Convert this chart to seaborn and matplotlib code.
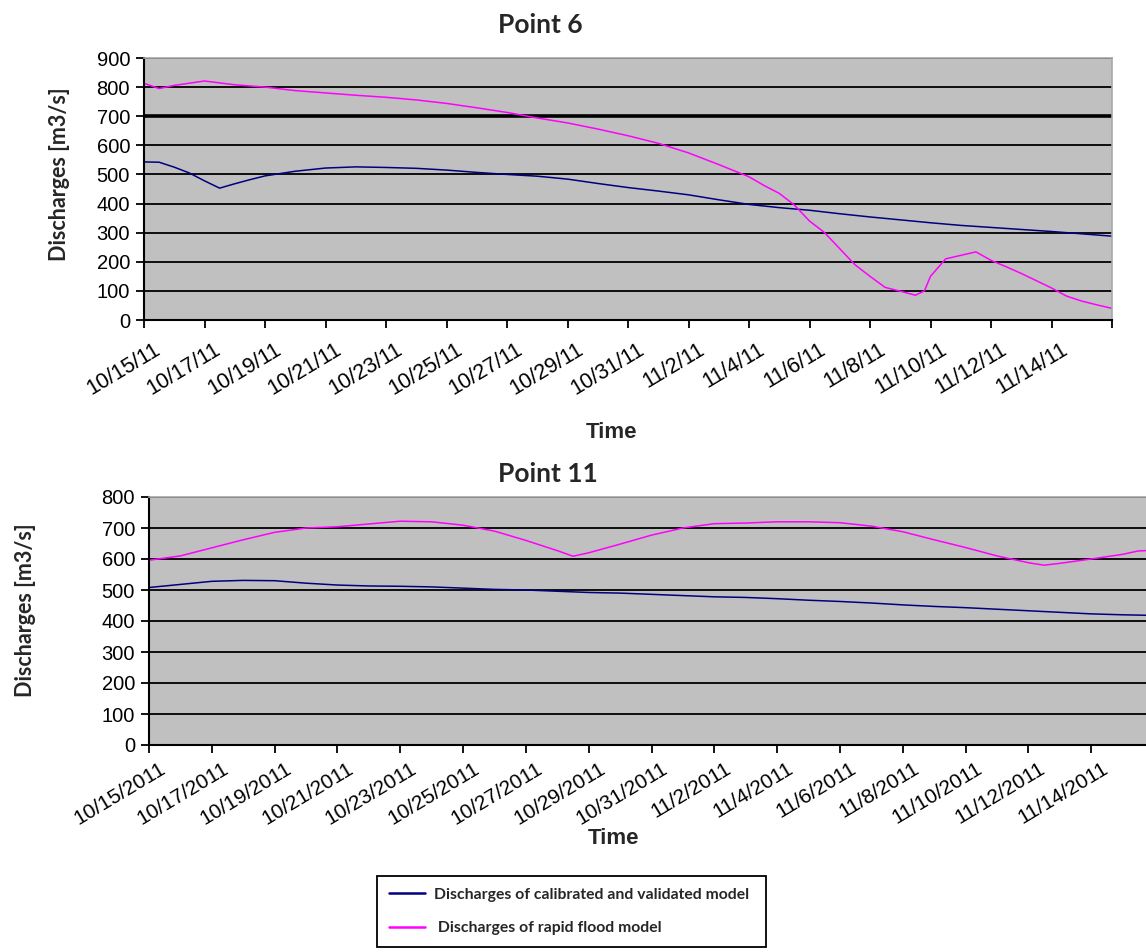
import matplotlib
matplotlib.use("Agg")
import matplotlib.pyplot as plt
import matplotlib.transforms as mtransforms
from matplotlib.lines import Line2D
import pandas as pd
import seaborn as sns

START = pd.Timestamp("2011-10-15")

# Point 6 -- day offsets from 15 Oct 2011 and discharges [m3/s]
p6_cal_days = [0, 0.5, 1, 1.5, 2, 2.5, 3, 3.5, 4, 5, 6, 7, 8, 9, 10, 11, 12, 13, 14, 15,
               16, 17, 18, 19, 20, 21, 22, 23, 24, 25, 26, 27, 28, 29, 30, 31, 32]
p6_cal_vals = [543, 542, 525, 505, 478, 453, 468, 482, 495, 511, 522, 526, 524, 521, 515, 507,
               500, 494, 484, 469, 455, 443, 430, 413, 397, 386, 377, 365, 354, 344, 334, 325,
               318, 311, 304, 296, 288]

p6_rapid_days = [0, 0.5, 1, 2, 3, 4, 5, 6, 7, 8, 9, 10, 11, 12, 13, 14, 15, 16, 17, 18, 19,
                 20, 20.5, 21, 21.5, 22, 22.5, 23, 23.5, 24, 24.5, 25, 25.5, 25.8, 26, 26.5,
                 27, 27.5, 28, 28.5, 29, 29.5, 30, 30.5, 31, 31.5, 32]
p6_rapid_vals = [813, 795, 806, 821, 808, 800, 788, 780, 772, 765, 756, 744, 729, 713, 694, 677,
                 656, 633, 607, 574, 534, 492, 462, 435, 395, 340, 300, 245, 190, 150, 112, 99,
                 85, 100, 150, 210, 222, 234, 205, 183, 160, 135, 110, 82, 65, 52, 40]

# Point 11
p11_cal_days = list(range(0, 33))
p11_cal_vals = [508, 518, 528, 531, 530, 522, 516, 513, 512, 510, 506, 502, 500, 496, 492, 490,
                486, 482, 478, 476, 472, 467, 463, 458, 452, 447, 443, 438, 433, 428, 423, 420,
                418]

p11_rapid_days = [0, 1, 2, 3, 4, 5, 6, 7, 8, 9, 10, 11, 12, 13, 13.5, 14, 15, 16, 17, 18, 19,
                  20, 21, 22, 23, 24, 25, 26, 27, 28, 28.5, 29, 30, 31, 31.5, 32]
p11_rapid_vals = [596, 610, 636, 662, 686, 700, 704, 713, 722, 720, 709, 690, 660, 627, 609,
                  620, 648, 677, 700, 714, 716, 720, 720, 717, 706, 688, 662, 637, 610, 588,
                  580, 586, 600, 615, 626, 628]

p6_tick_labels = ["10/15/11", "10/17/11", "10/19/11", "10/21/11", "10/23/11", "10/25/11",
                  "10/27/11", "10/29/11", "10/31/11", "11/2/11", "11/4/11", "11/6/11",
                  "11/8/11", "11/10/11", "11/12/11", "11/14/11"]
p11_tick_labels = ["10/15/2011", "10/17/2011", "10/19/2011", "10/21/2011", "10/23/2011",
                   "10/25/2011", "10/27/2011", "10/29/2011", "10/31/2011", "11/2/2011",
                   "11/4/2011", "11/6/2011", "11/8/2011", "11/10/2011", "11/12/2011",
                   "11/14/2011"]

CAL_NAME = "Discharges of calibrated and validated model"
RAPID_NAME = " Discharges of rapid flood model"

NAVY = "#000080"
MAGENTA = "#ff00ff"
PANEL = "#c0c0c0"

sns.set_theme(style="white")
plt.rcParams["font.family"] = ["Liberation Sans", "DejaVu Sans"]


def frame(days, vals, name):
    return pd.DataFrame({
        "date": START + pd.to_timedelta(days, unit="D"),
        "Q": vals,
        "series": name,
    })


def draw(ax, cal_days, cal_vals, rapid_days, rapid_vals):
    df = pd.concat([frame(cal_days, cal_vals, CAL_NAME),
                    frame(rapid_days, rapid_vals, RAPID_NAME)], ignore_index=True)
    sns.lineplot(data=df, x="date", y="Q", hue="series", estimator=None, sort=False,
                 palette={CAL_NAME: NAVY, RAPID_NAME: MAGENTA}, linewidth=1.1,
                 legend=False, ax=ax)


def style(ax, ymax, labels, xpad, shift_px, xsize):
    ax.set_facecolor(PANEL)
    ax.set_xlim(START, START + pd.Timedelta(days=32))
    ax.set_ylim(0, ymax)
    ax.set_yticks(range(0, ymax + 1, 100))
    ax.yaxis.grid(True, color="black", linewidth=1.3)
    ax.xaxis.grid(False)
    ax.set_axisbelow(True)
    ticks = [START + pd.Timedelta(days=d) for d in range(0, 33, 2)]
    ax.set_xticks(ticks)
    ax.set_xticklabels(labels + [""] * (len(ticks) - len(labels)),
                       rotation=31, ha="right", rotation_mode="anchor")
    ax.tick_params(axis="both", direction="out", length=6, width=1.3, color="black",
                   labelcolor="black", bottom=True, left=True)
    ax.tick_params(axis="y", labelsize=14.5, pad=4)
    ax.tick_params(axis="x", labelsize=xsize, pad=xpad)
    shift = mtransforms.ScaledTranslation(shift_px / 100, 0, ax.figure.dpi_scale_trans)
    for lab in ax.get_xticklabels():
        lab.set_transform(lab.get_transform() + shift)
    ax.set_xlabel("")
    ax.set_ylabel("Discharges [m3/s]", fontsize=15.5, fontweight="bold", family="Lato")
    for side in ("left", "bottom"):
        ax.spines[side].set_color("black")
        ax.spines[side].set_linewidth(1.5)
    for side in ("top", "right"):
        ax.spines[side].set_color("#a8a8a8")
        ax.spines[side].set_linewidth(1.2)


W, H = 1146, 952
fig = plt.figure(figsize=(W / 100, H / 100), dpi=100)

ax1 = fig.add_axes([144 / W, 1 - 320 / H, 968 / W, 262 / H])
draw(ax1, p6_cal_days, p6_cal_vals, p6_rapid_days, p6_rapid_vals)
style(ax1, 900, p6_tick_labels, xpad=8, shift_px=9, xsize=15.5)
ax1.get_ygridlines()[7].set_linewidth(2.6)
ax1.yaxis.set_label_coords((70 - 144) / 968, (320 - 174) / 262)

ax2 = fig.add_axes([149 / W, 1 - 745 / H, 1005 / W, 248 / H])
draw(ax2, p11_cal_days, p11_cal_vals, p11_rapid_days, p11_rapid_vals)
style(ax2, 800, p11_tick_labels, xpad=4, shift_px=10, xsize=15)
ax2.yaxis.set_label_coords((36 - 149) / 1005, (745 - 610) / 248)

fig.text(540 / W, 1 - 25 / H, "Point 6", ha="center", va="center",
         fontsize=19, fontweight="bold", family="Lato")
fig.text(548 / W, 1 - 474 / H, "Point 11", ha="center", va="center",
         fontsize=19, fontweight="bold", family="Lato")
fig.text(612 / W, 1 - 432 / H, "Time", ha="center", va="center",
         fontsize=16, fontweight="bold")
fig.text(614 / W, 1 - 838 / H, "Time", ha="center", va="center",
         fontsize=16, fontweight="bold")

handles = [Line2D([], [], color=NAVY, linewidth=1.8),
           Line2D([], [], color=MAGENTA, linewidth=1.8)]
leg = fig.legend(handles, [CAL_NAME, RAPID_NAME], loc="upper left",
                 bbox_to_anchor=(377 / W, 0, 389 / W, 1 - 876 / H), mode="expand",
                 borderaxespad=0, frameon=True, fancybox=False, edgecolor="black",
                 facecolor="white", framealpha=1, handlelength=2.3, handletextpad=0.6,
                 labelspacing=1.25, borderpad=0.75,
                 prop={"family": "Lato", "weight": "bold", "size": 11.3})
leg.get_frame().set_linewidth(1.3)

fig.savefig("out.png", dpi=100)
